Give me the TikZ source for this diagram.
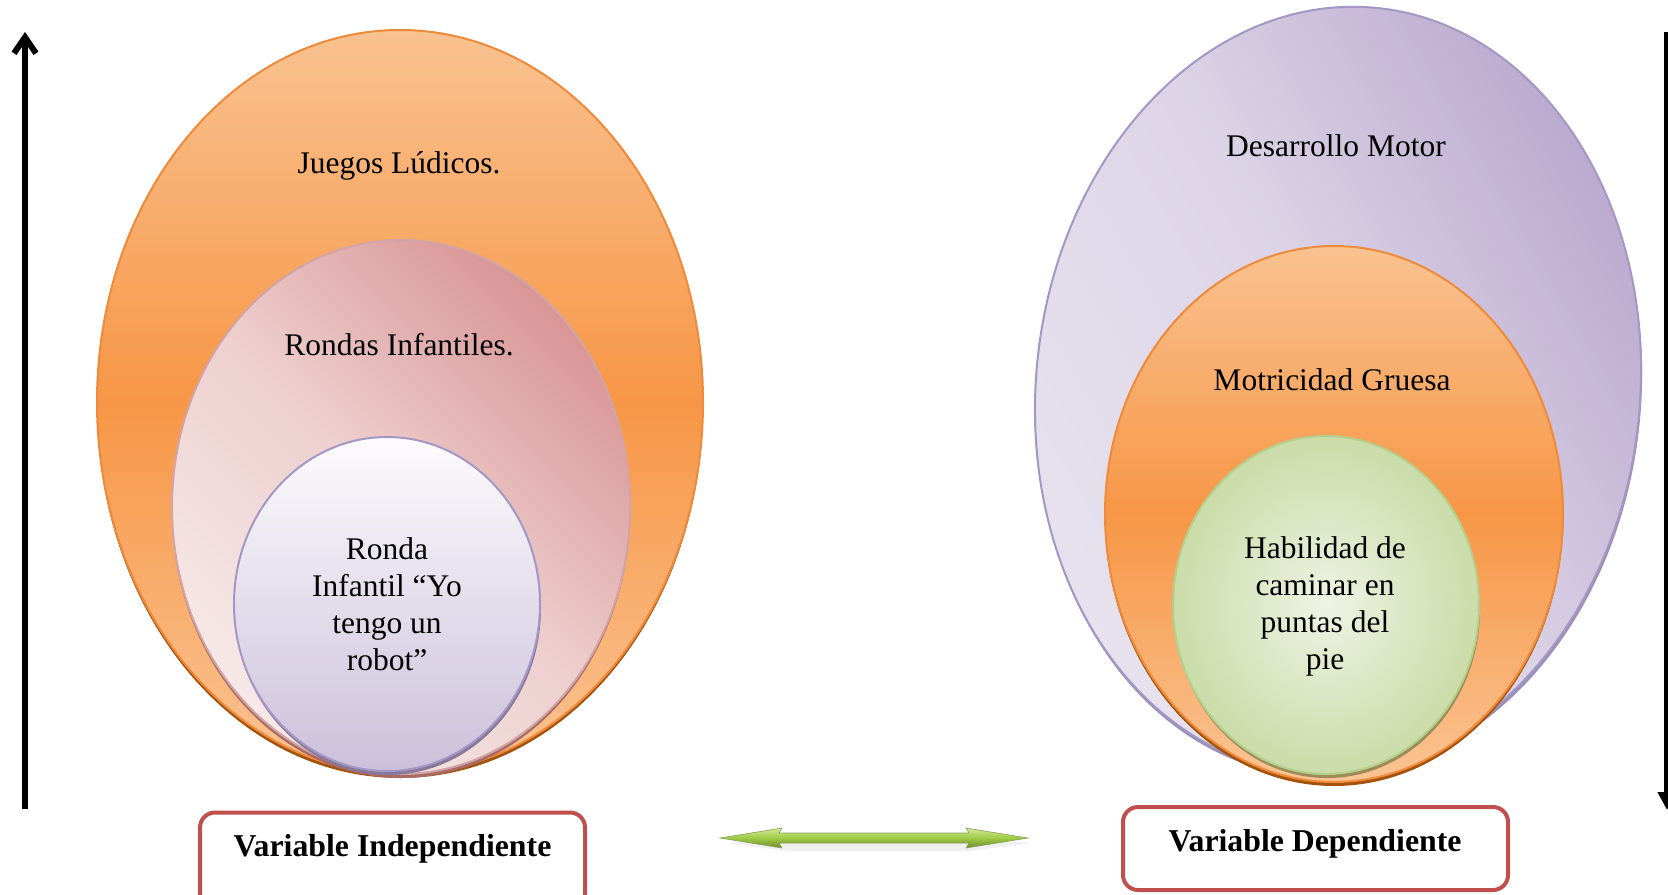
\documentclass[tikz,border=0pt]{standalone}
\usepackage{fontspec}
\setmainfont{Liberation Serif}
\usetikzlibrary{shapes.geometric,arrows.meta,calc}
\definecolor{orTop}{HTML}{F9C290}
\definecolor{orMid}{HTML}{F79646}
\definecolor{orBot}{HTML}{FAC493}
\definecolor{orEdge}{HTML}{EE8A3A}
\definecolor{orRim}{HTML}{A3520C}
\definecolor{pkDark}{HTML}{D99596}
\definecolor{pkMid}{HTML}{EDCFCE}
\definecolor{pkLight}{HTML}{F6E8E7}
\definecolor{pkEdge}{HTML}{D2A4A6}
\definecolor{pkRim}{HTML}{A86A66}
\definecolor{lvTop}{HTML}{FCFBFD}
\definecolor{lvBot}{HTML}{CBC0DA}
\definecolor{lvEdge}{HTML}{A497C6}
\definecolor{lvRim}{HTML}{857898}
\definecolor{lvDark}{HTML}{B9A8CE}
\definecolor{lvMid}{HTML}{DDD5E7}
\definecolor{lvLight}{HTML}{E7E2EE}
\definecolor{lvRimB}{HTML}{9C8FB6}
\definecolor{gnIn}{HTML}{EEF3E4}
\definecolor{gnOut}{HTML}{CADCA8}
\definecolor{gnEdge}{HTML}{B4CF8C}
\definecolor{gnRim}{HTML}{9C8A58}
\definecolor{boxred}{HTML}{C0504D}
\definecolor{arTop}{HTML}{D2EA96}
\definecolor{arMid}{HTML}{9FCB45}
\definecolor{arBot}{HTML}{6C8A2C}
\tikzset{
  oval/.style={ellipse, inner sep=0pt, outer sep=0pt},
  orangeoval/.style={oval, draw=orEdge, line width=1pt, top color=orTop, bottom color=orBot, middle color=orMid},
  rimoval/.style={oval, fill=#1, draw=none},
  lbl/.style={font=\fontsize{15.75}{18.5}\selectfont, align=center, text=black, inner sep=0pt},
  varbox/.style={draw=boxred, line width=2pt, rounded corners=7.5pt, fill=white, inner sep=0pt, minimum width=192.5pt},
  boldlbl/.style={font=\fontsize{15.9}{18.5}\selectfont\bfseries, text=black, inner sep=0pt}
}
\begin{document}
\begin{tikzpicture}[x=0.5pt,y=-0.5pt]
\useasboundingbox (0,0) rectangle (1668,894);
\clip (0,0) rectangle (1668,894);
\fill[white] (0,0) rectangle (1668,894);

% ---------- left group ----------
\node[rimoval=orRim, minimum width=303pt, minimum height=372pt] (L1r) at (400,406) {};
\node[orangeoval, minimum width=303pt, minimum height=372pt] (L1) at (400,402) {};
\node[rimoval=pkRim, minimum width=229pt, minimum height=267pt] (L2r) at (401,511) {};
\node[oval, draw=pkEdge, line width=1pt, top color=pkDark, bottom color=pkLight, middle color=pkMid, shading angle=-45, minimum width=229pt, minimum height=267pt] (L2) at (401,507) {};
\node[rimoval=lvRim, minimum width=153pt, minimum height=167pt] (L3r) at (388,608) {};
\node[oval, draw=lvEdge, line width=1pt, top color=lvTop, bottom color=lvBot, minimum width=153pt, minimum height=167pt] (L3) at (387,604) {};

\node[lbl] (tJ) at (399,166) {Juegos Lúdicos.};
\node[lbl] (tR) at (399,345) {Rondas Infantiles.};
\node[lbl] (tRI) at (387,604) {Ronda\\Infantil “Yo\\tengo un\\robot”};

% ---------- right group ----------
\node[rimoval=lvRimB, rotate=-6, minimum width=302pt, minimum height=384pt] (R1r) at (1339,394) {};
\node[oval, draw=lvEdge, line width=1pt, rotate=-6, top color=lvDark, bottom color=lvLight, middle color=lvMid, shading angle=-60, minimum width=302pt, minimum height=384pt] (R1) at (1338,390) {};
\node[rimoval=orRim, minimum width=229pt, minimum height=268pt] (R2r) at (1334,518) {};
\node[orangeoval, minimum width=229pt, minimum height=268pt] (R2) at (1334,514) {};
\node[rimoval=gnRim, minimum width=153pt, minimum height=169pt] (R3r) at (1327,609) {};
\node[oval, draw=gnEdge, line width=1pt, inner color=gnIn, outer color=gnOut, minimum width=153pt, minimum height=169pt] (R3) at (1326,605) {};

\node[lbl] (tD) at (1336,146) {Desarrollo Motor};
\node[lbl] (tM) at (1332,380) {Motricidad Gruesa};
\node[lbl] (tH) at (1325,606) {Habilidad de\\caminar en\\puntas del\\pie};

% ---------- side arrows ----------
\coordinate (lb) at (25,809);
\coordinate (lt) at (25,32);
\draw[line width=3pt, -{Straight Barb[length=8pt,width=11pt]}] (lb) -- (lt);
\coordinate (rt) at (1667,32);
\coordinate (rb) at (1667,810);
\draw[line width=3pt, -{Triangle[length=9pt,width=9pt]}] (rt) -- (rb);

% ---------- boxes ----------
\node[varbox, minimum height=48.5pt] (boxL) at (392.5,861) {};
\node[boldlbl] (vI) at (392.5,849) {Variable Independiente};
\node[varbox, minimum height=41.5pt] (boxR) at (1315.5,848.5) {};
\node[boldlbl] (vD) at (1315,844) {Variable Dependiente};

% ---------- green double arrow ----------
\coordinate (gl) at (720,838);
\coordinate (gr) at (1028,838);
\fill[black!6] ($(gl)+(8,5)$) -- ($(gl)+(66,1)$) -- ($(gr)+(-56,1)$) -- ($(gr)+(4,5)$) -- ($(gr)+(-58,13)$) -- ($(gl)+(66,13)$) -- cycle;
\shade[top color=arTop, bottom color=arBot, middle color=arMid, draw=arBot!80, line width=0.3pt]
  (gl) -- ($(gl)+(62,-10)$) -- ($(gl)+(59,-5)$) -- ($(gr)+(-59,-5)$) -- ($(gr)+(-62,-10)$) -- (gr)
  -- ($(gr)+(-62,10)$) -- ($(gr)+(-59,5)$) -- ($(gl)+(59,5)$) -- ($(gl)+(62,10)$) -- cycle;
\end{tikzpicture}
\end{document}
